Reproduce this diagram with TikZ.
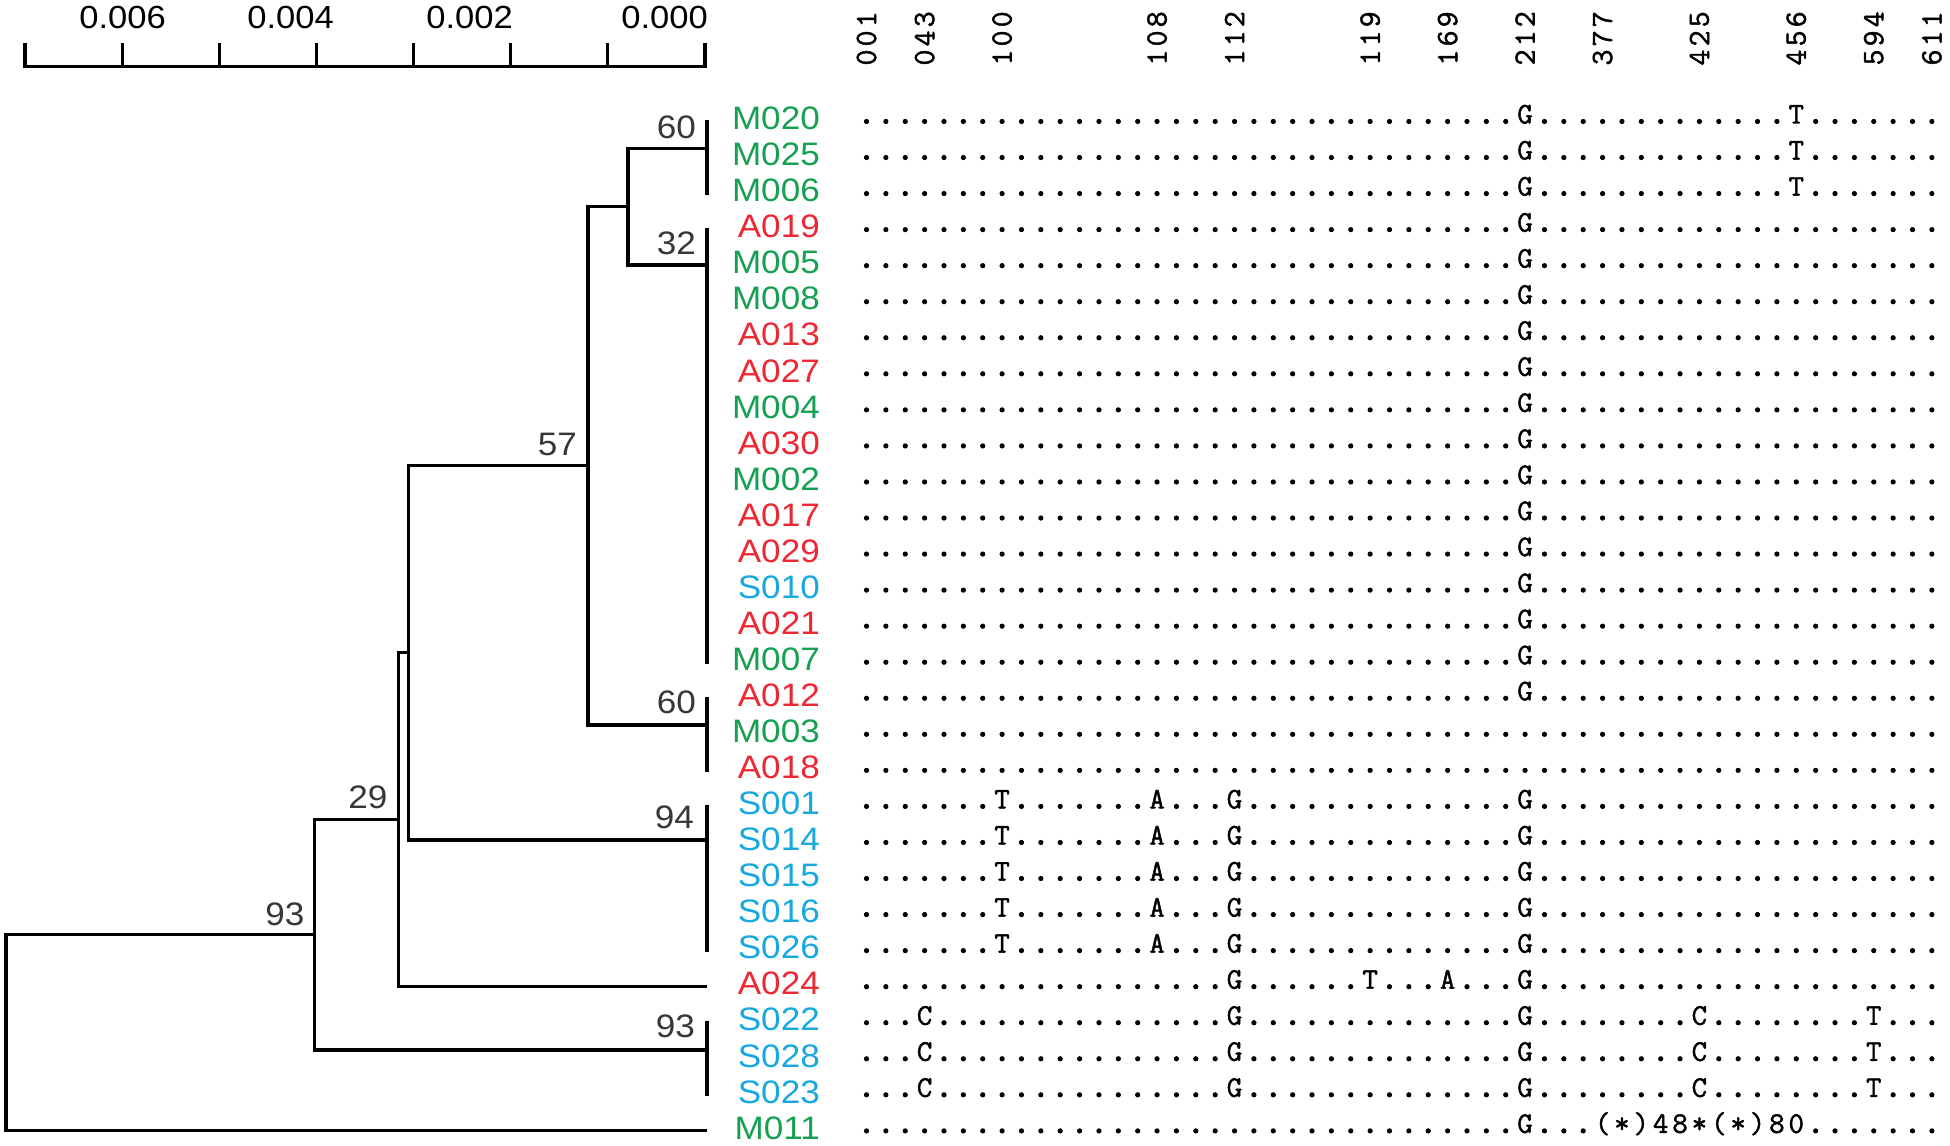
\documentclass[tikz,border=0pt]{standalone}
\usepackage{fontspec}
\newfontfamily\labfont[FakeStretch=1.08]{Liberation Sans}
\newfontfamily\seqfont[FakeBold=1.5]{Latin Modern Mono}
\newfontfamily\seqdotfont[FakeBold=3]{Latin Modern Mono}
\definecolor{mgreen}{RGB}{22,160,82}
\definecolor{ared}{RGB}{236,40,52}
\definecolor{sblue}{RGB}{24,168,224}
\definecolor{bsgray}{RGB}{55,55,55}
\newcount\sqk
\def\alx{866.5}
\def\aldx{19.37}
\def\rowbase{121.5}
\def\rowsep{36.05}
\def\dd#1{\ifnum#1>0 .\expandafter\dd\expandafter{\the\numexpr#1-1\relax}\fi}
\edef\rA{\dd{34}G\dd{13}T\dd{7}}
\edef\rB{\dd{34}G\dd{21}}
\edef\rC{\dd{56}}
\edef\rD{\dd{7}T\dd{7}A\dd{3}G\dd{14}G\dd{21}}
\edef\rE{\dd{19}G\dd{6}T\dd{3}A\dd{3}G\dd{21}}
\edef\rF{\dd{3}C\dd{15}G\dd{14}G\dd{8}C\dd{8}T\dd{3}}
\edef\rG{\dd{34}G\dd{3}(*)48*(*)80\dd{7}}
\def\alloop#1{%
  \ifx\relax#1\else
    \ifx.#1%
      \node[alpt] (q\currow-\the\sqk) at ({\alx+\aldx*\the\sqk},{\rowbase+2+\rowsep*\currow}) {#1};%
    \else
      \node[alch] (q\currow-\the\sqk) at ({\alx+\aldx*\the\sqk},{\rowbase+2+\rowsep*\currow}) {#1};%
    \fi
    \advance\sqk by 1\relax
    \expandafter\alloop
  \fi}
\newcommand\alrow[2]{\sqk=0\relax\def\currow{#1}\expandafter\alloop#2\relax}
\def\hdrput#1#2#3#4{%
  \node[hch] (h#4a) at ({\alx+\aldx*#4},57.5) {#1};
  \node[hch] (h#4b) at ({\alx+\aldx*#4},38.4) {#2};
  \node[hch] (h#4c) at ({\alx+\aldx*#4},19.3) {#3};}
\newcommand\hdr[2]{\hdrput#1{#2}}
\begin{document}
\begin{tikzpicture}[x=1pt,y=-1pt,
  br/.style={line width=3.1pt, line cap=butt, line join=miter},
  tiplab/.style={font=\labfont\fontsize{32.5}{36}\selectfont, anchor=east, inner sep=0pt},
  tM/.style={tiplab,text=mgreen},
  tA/.style={tiplab,text=ared},
  tS/.style={tiplab,text=sblue},
  bs/.style={font=\labfont\fontsize{32.5}{36}\selectfont, text=bsgray, anchor=south east, inner sep=0pt},
  scl/.style={font=\labfont\fontsize{32}{36}\selectfont, anchor=base east, inner sep=0pt},
  alch/.style={font=\seqfont\fontsize{30}{30}\selectfont, anchor=base, inner sep=0pt},
  alpt/.style={font=\seqdotfont\fontsize{36}{36}\selectfont, anchor=base, inner sep=0pt},
  hch/.style={font=\seqfont\fontsize{31}{31}\selectfont, rotate=90, anchor=center, inner sep=0pt}]
\useasboundingbox (0,0) rectangle (1950,1145);

% scale bar
\foreach \k in {0,...,7} \coordinate (s\k) at ({25+97.143*\k},66.7);
\draw[br] ([yshift=23.4pt]s0) -- (s0) -- (s7) -- ([yshift=23.4pt]s7);
\foreach \k in {1,...,6} \draw[br] (s\k) -- ([yshift=23.4pt]s\k);
\node[scl] (sc6) at (166,28.5) {0.006};
\node[scl] (sc4) at (334,28.5) {0.004};
\node[scl] (sc2) at (513,28.5) {0.002};
\node[scl] (sc0) at (708,28.5) {0.000};

% tips
\foreach \i in {0,...,28} \coordinate (t\i) at (707,{\rowbase+\rowsep*\i});
\foreach \i/\nm/\ty in {0/M020/M,1/M025/M,2/M006/M,3/A019/A,4/M005/M,5/M008/M,6/A013/A,7/A027/A,8/M004/M,9/A030/A,10/M002/M,11/A017/A,12/A029/A,13/S010/S,14/A021/A,15/M007/M,16/A012/A,17/M003/M,18/A018/A,19/S001/S,20/S014/S,21/S015/S,22/S016/S,23/S026/S,24/A024/A,25/S022/S,26/S028/S,27/S023/S,28/M011/M}
  \node[t\ty] (lab\nm) at (820,{\rowbase+\rowsep*\i-3}) {\nm};

% internal nodes
\coordinate (n60a) at (707,148.3);
\coordinate (n32) at (707,265);
\coordinate (na) at (628,206.6);
\coordinate (n60b) at (707,725);
\coordinate (nb) at (588,465.8);
\coordinate (n94) at (707,840);
\coordinate (nc) at (408.6,652.9);
\coordinate (nd) at (398.5,819.8);
\coordinate (n93) at (707,1050);
\coordinate (ne) at (314.6,934.9);
\coordinate (root) at (6,1032);

% tip bars
\draw[br] ([yshift=1.4pt]t0) -- ([yshift=-1.4pt]t2);
\draw[br] ([yshift=1.4pt]t3) -- ([yshift=-1.4pt]t15);
\draw[br] ([yshift=1.4pt]t16) -- ([yshift=-1.4pt]t18);
\draw[br] ([yshift=1.4pt]t19) -- ([yshift=-1.4pt]t23);
\draw[br] ([yshift=1.4pt]t25) -- ([yshift=-1.4pt]t27);

% branches
\draw[br] (na) |- (n60a);
\draw[br] (na) |- (n32);
\draw[br] (nb) |- (na);
\draw[br] (nb) |- (n60b);
\draw[br] (nc) |- (nb);
\draw[br] (nc) |- (n94);
\draw[br] (nd) |- (nc);
\draw[br] (nd) |- (t24);
\draw[br] (ne) |- (nd);
\draw[br] (ne) |- (n93);
\draw[br] (root) |- (ne);
\draw[br] (root) |- (t28);

% bootstrap values
\node[bs] (b1) at ([xshift=-11pt,yshift=9pt]n60a) {60};
\node[bs] (b2) at ([xshift=-11pt,yshift=10pt]n32) {32};
\node[bs] (b3) at ([xshift=-11pt,yshift=10pt]nb) {57};
\node[bs] (b4) at ([xshift=-11pt,yshift=11pt]n60b) {60};
\node[bs] (b5) at ([xshift=-13pt,yshift=11pt]n94) {94};
\node[bs] (b6) at ([xshift=-11pt,yshift=11pt]nd) {29};
\node[bs] (b7) at ([xshift=-12pt,yshift=12pt]n93) {93};
\node[bs] (b8) at ([xshift=-10pt,yshift=9pt]ne) {93};

% header
\hdr{001}{0}\hdr{043}{3}\hdr{100}{7}\hdr{108}{15}\hdr{112}{19}\hdr{119}{26}\hdr{169}{30}
\hdr{212}{34}\hdr{377}{38}\hdr{425}{43}\hdr{456}{48}\hdr{594}{52}\hdr{611}{55}

% alignment
\alrow{0}{\rA}\alrow{1}{\rA}\alrow{2}{\rA}
\foreach \i in {3,...,16} {\alrow{\i}{\rB}}
\alrow{17}{\rC}\alrow{18}{\rC}
\foreach \i in {19,...,23} {\alrow{\i}{\rD}}
\alrow{24}{\rE}
\foreach \i in {25,...,27} {\alrow{\i}{\rF}}
\alrow{28}{\rG}
\end{tikzpicture}
\end{document}
